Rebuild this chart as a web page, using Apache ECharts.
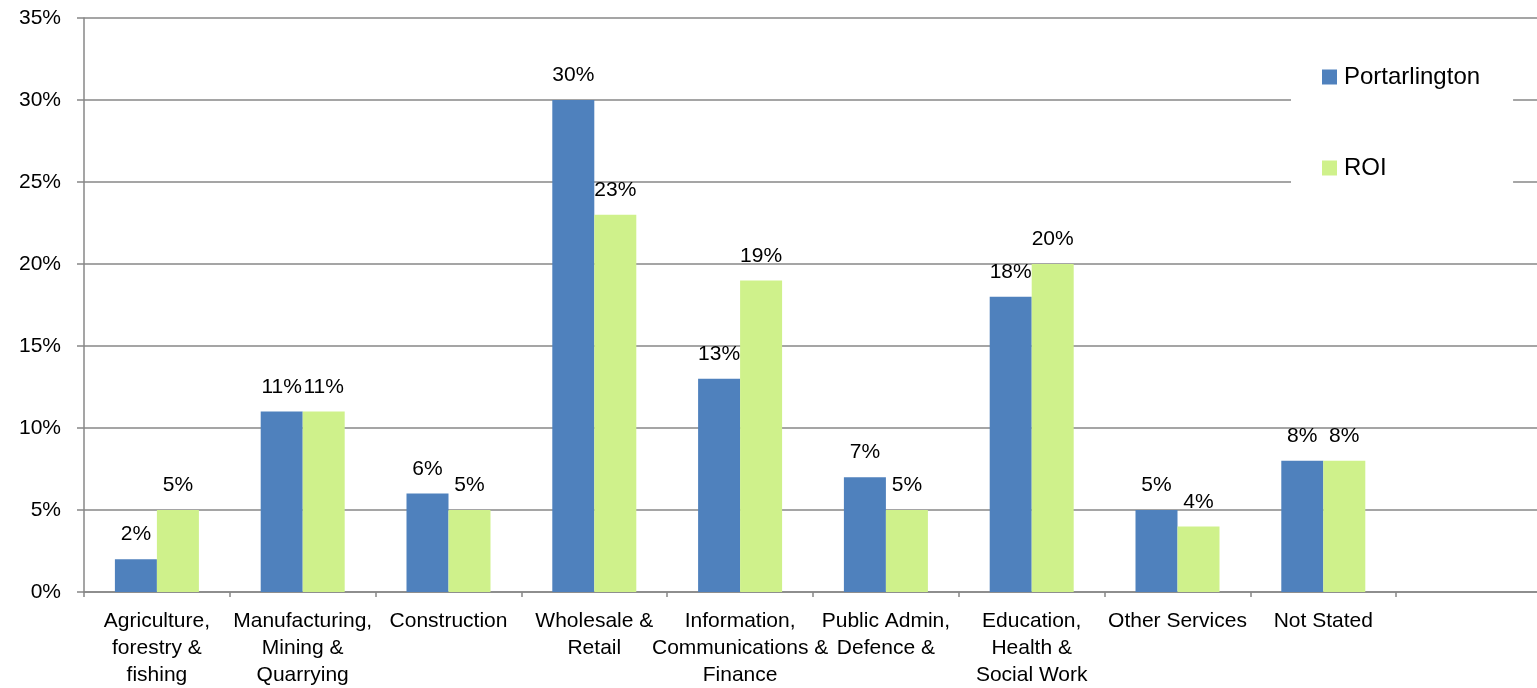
<!DOCTYPE html>
<html>
<head>
<meta charset="utf-8">
<script src="https://cdn.jsdelivr.net/npm/echarts@6/dist/echarts.min.js"></script>
<style>
html,body{margin:0;padding:0;background:#fff;}
#chart{width:1537px;height:688px;}
</style>
</head>
<body>
<div id="chart"></div>
<script>
var categories = [
  'Agriculture,\nforestry &\nfishing',
  'Manufacturing,\nMining &\nQuarrying',
  'Construction',
  'Wholesale &\nRetail',
  'Information,\nCommunications &\nFinance',
  'Public Admin,\nDefence &',
  'Education,\nHealth &\nSocial Work',
  'Other Services',
  'Not Stated',
  ''
];
var portarlington = [2, 11, 6, 30, 13, 7, 18, 5, 8, '-'];
var roi = [5, 11, 5, 23, 19, 5, 20, 4, 8, '-'];
var yTicks = { min: 0, max: 35, interval: 5 };

var FONT = '"Liberation Sans", Arial, sans-serif';
var chart = echarts.init(document.getElementById('chart'));
var labelStyle = {
  show: true, position: 'top', distance: 14,
  formatter: '{c}%', color: '#000', fontSize: 21, fontFamily: FONT
};
chart.setOption({
  animation: false,
  backgroundColor: '#fff',
  grid: { left: 84, top: 18, bottom: 96, width: 1458, containLabel: false, outerBoundsMode: 'none' },
  legend: {
    orient: 'vertical',
    left: 1291, top: 45,
    backgroundColor: '#fff',
    padding: [20, 33, 20, 31],
    itemWidth: 15, itemHeight: 15,
    itemGap: 67,
    icon: 'rect',
    textStyle: { fontSize: 24, fontFamily: FONT, color: '#000', lineHeight: 24, padding: [0, 0, 0, 2] },
    data: ['Portarlington', 'ROI']
  },
  xAxis: {
    type: 'category',
    data: categories,
    boundaryGap: true,
    axisLine: { lineStyle: { color: '#878787', width: 1.5 } },
    axisTick: { show: true, length: 5, lineStyle: { color: '#878787', width: 1.5 } },
    axisLabel: { interval: 0, margin: 16, color: '#000', fontSize: 21, lineHeight: 27, fontFamily: FONT }
  },
  yAxis: {
    type: 'value',
    min: yTicks.min, max: yTicks.max, interval: yTicks.interval,
    axisLine: { show: true, lineStyle: { color: '#878787', width: 1.5 } },
    axisTick: { show: true, length: 7, lineStyle: { color: '#878787', width: 1.5 } },
    axisLabel: { formatter: '{value}%', margin: 23, color: '#000', fontSize: 21, fontFamily: FONT },
    splitLine: { show: true, lineStyle: { color: '#878787', width: 1.5 } }
  },
  series: [
    { name: 'Portarlington', type: 'bar', data: portarlington, barWidth: 42, barGap: '0%',
      itemStyle: { color: '#4F81BD' }, label: labelStyle },
    { name: 'ROI', type: 'bar', data: roi, barWidth: 42, barGap: '0%',
      itemStyle: { color: '#CFF18B' }, label: labelStyle }
  ]
});
</script>
</body>
</html>
